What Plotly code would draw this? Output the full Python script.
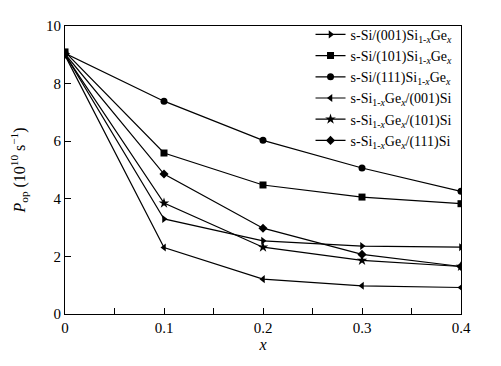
import plotly.graph_objects as go

x_vals = [0, 0.1, 0.2, 0.3, 0.4]
names = [
    "s-Si/(001)Si<sub>1-<i>x</i></sub>Ge<sub><i>x</i></sub>",
    "s-Si/(101)Si<sub>1-<i>x</i></sub>Ge<sub><i>x</i></sub>",
    "s-Si/(111)Si<sub>1-<i>x</i></sub>Ge<sub><i>x</i></sub>",
    "s-Si<sub>1-<i>x</i></sub>Ge<sub><i>x</i></sub>/(001)Si",
    "s-Si<sub>1-<i>x</i></sub>Ge<sub><i>x</i></sub>/(101)Si",
    "s-Si<sub>1-<i>x</i></sub>Ge<sub><i>x</i></sub>/(111)Si",
]
s001_on_sige = [9.02, 3.30, 2.54, 2.36, 2.32]
s101_on_sige = [9.10, 5.59, 4.48, 4.06, 3.83]
s111_on_sige = [9.05, 7.39, 6.03, 5.07, 4.26]
sige_on_001 = [8.98, 2.31, 1.21, 0.98, 0.92]
sige_on_101 = [9.00, 3.85, 2.32, 1.86, 1.65]
sige_on_111 = [9.03, 4.86, 2.98, 2.07, 1.65]
series = [s001_on_sige, s101_on_sige, s111_on_sige, sige_on_001, sige_on_101, sige_on_111]
symbols = ["triangle-right", "square", "circle", "triangle-left", "star", "diamond"]
sizes = [7, 7, 7, 7, 8, 7]

fig = go.Figure()
for name, ys, sym, sz in zip(names, series, symbols, sizes):
    fig.add_trace(go.Scatter(
        x=x_vals, y=ys, name=name, mode="lines+markers",
        line=dict(color="black", width=1.2),
        marker=dict(symbol=sym, size=sz, color="black"),
    ))

ff = "Liberation Serif"
fig.update_layout(
    width=493, height=358,
    margin=dict(l=57, r=40, t=11, b=52),
    paper_bgcolor="white", plot_bgcolor="white",
    font=dict(family=ff, size=15, color="black"),
    showlegend=True,
    legend=dict(x=0.62, y=1.025, xanchor="left", yanchor="top",
                bgcolor="rgba(0,0,0,0)", font=dict(size=14, family=ff, color="black"),
                itemwidth=30, tracegroupgap=0),
    xaxis=dict(range=[0, 0.4], tickvals=[0, 0.1, 0.2, 0.3, 0.4],
               ticktext=["0", "0.1", "0.2", "0.3", "0.4"],
               tickfont=dict(family=ff, size=15, color="black"),
               ticks="inside", ticklen=6, tickwidth=1, tickcolor="black",
               minor=dict(dtick=0.05, tick0=0, ticks="inside", ticklen=6, tickcolor="black"),
               showline=True, linecolor="black", linewidth=1.2, mirror=True,
               showgrid=False, zeroline=False,
               title=dict(text="<i>x</i>", standoff=2, font=dict(family=ff, size=16, color="black"))),
    yaxis=dict(range=[0, 10], tickvals=[0, 2, 4, 6, 8, 10],
               tickfont=dict(family=ff, size=15, color="black"),
               ticks="inside", ticklen=6, tickwidth=1, tickcolor="black",
               showline=True, linecolor="black", linewidth=1.2, mirror=True,
               showgrid=False, zeroline=False,
               title=dict(text="<i>P</i><sub>op</sub> (10<sup>10</sup> s<sup>−1</sup>)", standoff=17,
                          font=dict(family=ff, size=16, color="black"))),
)
fig.write_html("out.html")
